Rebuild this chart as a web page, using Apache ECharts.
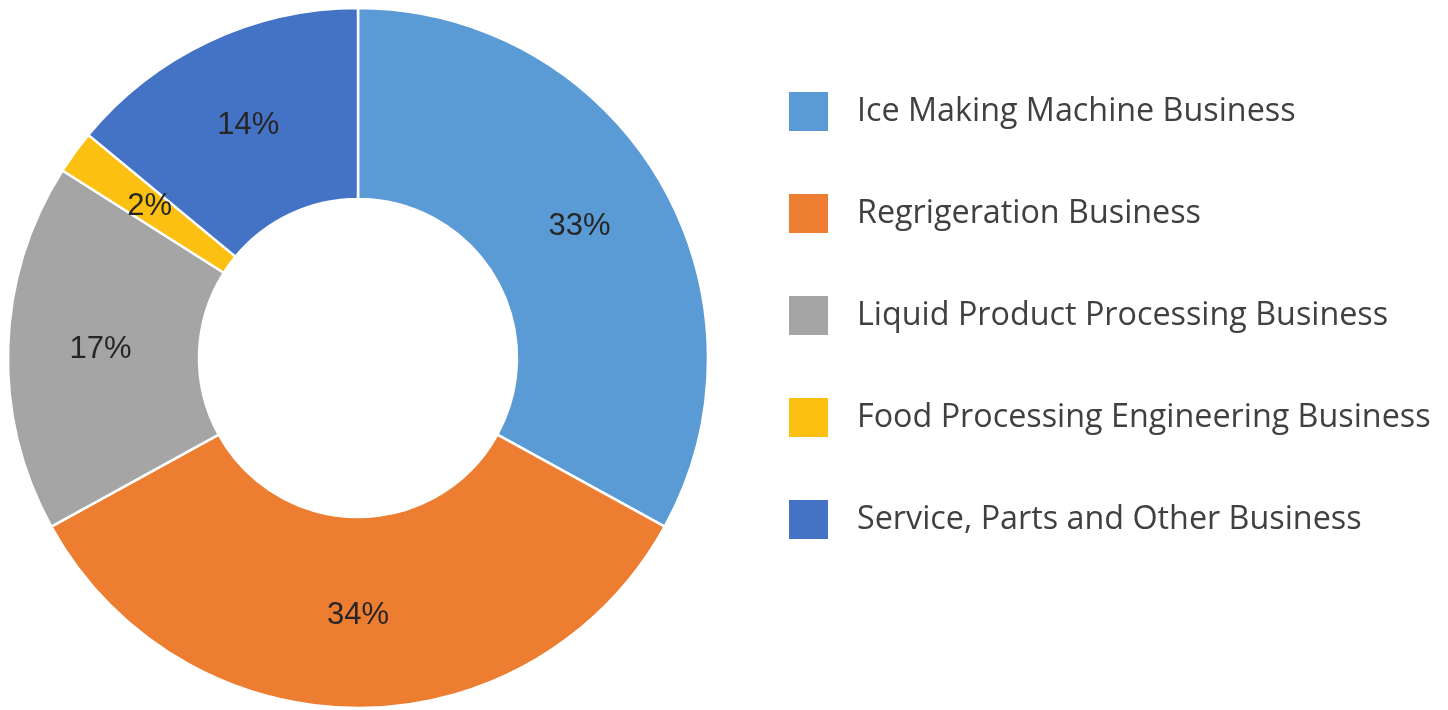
<!DOCTYPE html>
<html>
<head>
<meta charset="utf-8">
<script src="https://cdn.jsdelivr.net/npm/echarts@6/dist/echarts.min.js"></script>
<style>
html, body {margin: 0; padding: 0; background: #fff;}
#display {width: 1448px; height: 710px;}
</style>
</head>
<body>
<div id="display"></div>
<script>
var categories = [
    'Ice Making Machine Business',
    'Regrigeration Business',
    'Liquid Product Processing Business',
    'Food Processing Engineering Business',
    'Service, Parts and Other Business'
];
var shares = [33, 34, 17, 2, 14];
var colors = ['#5B9BD5', '#ED7D31', '#A5A5A5', '#FBC012', '#4472C4'];

var pieData = [];
for (var i = 0; i < categories.length; i++) {
    pieData.push({name: categories[i], value: shares[i]});
}

var myChart = echarts.init(document.getElementById("display"));
var option = {
    animation: false,
    color: colors,
    legend: {
        orient: 'vertical',
        left: 787,
        top: 90,
        padding: 0,
        itemWidth: 41,
        itemHeight: 41,
        itemGap: 59,
        icon: 'rect',
        textStyle: {
            fontFamily: 'Open Sans',
            fontSize: 32.3,
            lineHeight: 41,
            color: '#404040',
            padding: [0, 0, 0, 23]
        },
        data: categories
    },
    series: [{
        type: 'pie',
        center: [358, 358],
        radius: [159, 350],
        startAngle: 90,
        clockwise: true,
        itemStyle: {
            borderColor: '#fff',
            borderWidth: 2.5
        },
        label: {
            show: true,
            position: 'inside',
            formatter: '{c}%',
            fontFamily: 'Liberation Sans',
            fontSize: 31,
            color: '#262626'
        },
        labelLine: {show: false},
        emphasis: {disabled: true},
        data: pieData
    }]
};
myChart.setOption(option);
</script>
</body>
</html>
